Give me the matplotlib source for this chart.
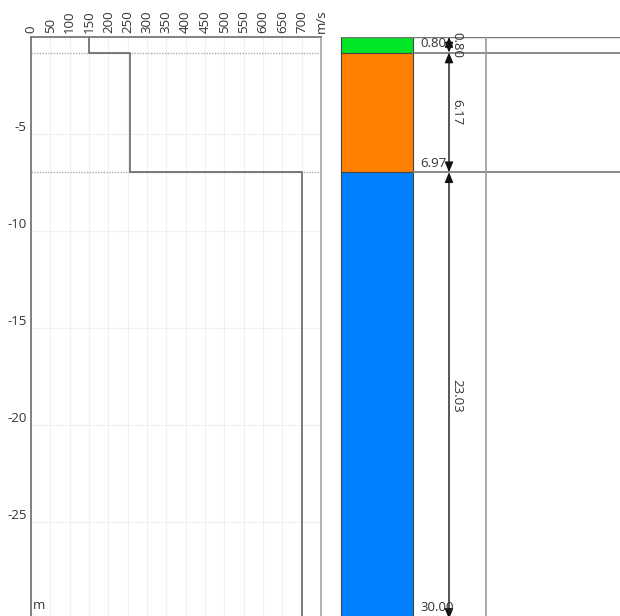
import matplotlib
matplotlib.use("Agg")
import matplotlib.pyplot as plt

plt.rcParams["font.family"] = ["Open Sans", "DejaVu Sans"]

# layer boundaries (depth, m) and shear-wave velocities (m/s)
layer_tops = [0.0, 0.80, 6.97]
layer_bottoms = [0.80, 6.97, 30.00]
layer_vs = [150, 255, 700]
layer_colors = ["#00e626", "#ff8000", "#0080ff"]
vel_ticks = list(range(0, 750, 50))
depth_ticks = [-5, -10, -15, -20, -25]

W, H = 620, 616
top_px = 37
fig = plt.figure(figsize=(W / 100, H / 100), dpi=100)
ax_h = (H - top_px) / H
depth_min = -29.85

# --- velocity profile ---
ax = fig.add_axes([31 / W, 0, 290 / W, ax_h])
ax.set_xlim(0, 750)
ax.set_ylim(depth_min, 0)
ax.set_xticks(vel_ticks + [750])
ax.set_xticklabels([str(v) for v in vel_ticks] + ["m/s"], rotation=90, fontsize=9.5, color="#333333")
ax.xaxis.tick_top()
ax.set_yticks(depth_ticks)
ax.set_yticklabels([str(d) for d in depth_ticks], fontsize=9.5, color="#333333")
for lbl in ax.get_yticklabels():
    lbl.set_verticalalignment("bottom")
ax.tick_params(length=0, pad=3)
ax.grid(True, color="#f0f0f0", lw=0.8)
ax.set_axisbelow(True)
for side in ["left", "top"]:
    ax.spines[side].set_color("#777777")
    ax.spines[side].set_linewidth(1.3)
ax.spines["right"].set_color("#aaaaaa")
ax.spines["right"].set_linewidth(1.3)
ax.spines["bottom"].set_visible(False)

for d in layer_tops[1:]:
    ax.axhline(-d, color="#aaaaaa", lw=1, ls=(0, (1, 1)))

xs, ys = [], []
for t, b, v in zip(layer_tops, layer_bottoms, layer_vs):
    xs += [v, v]
    ys += [-t, -b]
ax.plot(xs, ys, color="#666666", lw=1.2)
ax.text(4, depth_min + 0.2, "m", fontsize=9.5, color="#333333", va="bottom")

# --- layer column ---
bx = fig.add_axes([331 / W, 0, 289 / W, ax_h])
bx.set_xlim(331, 620)
bx.set_ylim(depth_min, 0)
bx.axis("off")

col_l, col_r = 341, 413
dim_x, sep_x, lab_x = 449, 486, 420
for t, b, c in zip(layer_tops, layer_bottoms, layer_colors):
    bx.fill_between([col_l, col_r], -t, -b, color=c, ec="#444444", lw=0.8)
bx.plot([col_l, 620], [0, 0], color="#777777", lw=1)
for d in layer_tops[1:]:
    bx.plot([col_r, 620], [-d, -d], color="#777777", lw=1.2)
bx.axvline(sep_x, color="#999999", lw=1.2)

for t, b in zip(layer_tops, layer_bottoms):
    bx.annotate("", xy=(dim_x, -b), xytext=(dim_x, -t), annotation_clip=False,
                arrowprops=dict(arrowstyle="<|-|>,head_length=0.6,head_width=0.25",
                                color="#111111", lw=1, shrinkA=0, shrinkB=0))
    bx.text(dim_x + 8, -(t + b) / 2, f"{b - t:.2f}", rotation=-90, fontsize=9.5,
            ha="center", va="center", color="#333333")
    # keep the deepest label inside the visible column
    lab_y = max(-b + 0.12, depth_min + 0.1)
    bx.text(lab_x, lab_y, f"{b:.2f}", fontsize=9.5, ha="left", va="bottom",
            color="#333333")

fig.savefig("out.png", dpi=100)
